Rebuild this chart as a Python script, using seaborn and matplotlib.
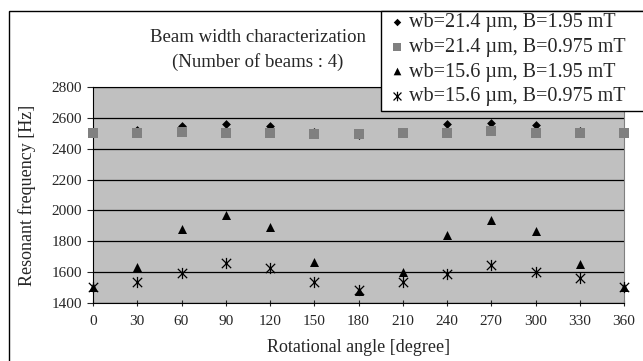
import numpy as np
import pandas as pd
import matplotlib
matplotlib.use("Agg")
import matplotlib.pyplot as plt
from matplotlib.path import Path
from matplotlib.patches import Rectangle
import seaborn as sns

angles = [0, 30, 60, 90, 120, 150, 180, 210, 240, 270, 300, 330, 360]
wb214_b195 = [2500, 2520, 2545, 2558, 2545, 2510, 2490, 2500, 2558, 2565, 2554, 2515, 2500]
wb214_b0975 = [2500, 2500, 2508, 2505, 2505, 2495, 2493, 2502, 2504, 2513, 2505, 2505, 2500]
wb156_b195 = [1505, 1631, 1878, 1972, 1895, 1667, 1480, 1603, 1841, 1938, 1868, 1653, 1505]
wb156_b0975 = [1504, 1537, 1596, 1657, 1624, 1537, 1484, 1538, 1588, 1646, 1603, 1560, 1506]
labels = ["wb=21.4 \u00b5m, B=1.95 mT", "wb=21.4 \u00b5m, B=0.975 mT",
          "wb=15.6 \u00b5m, B=1.95 mT", "wb=15.6 \u00b5m, B=0.975 mT"]
yticks = [1400, 1600, 1800, 2000, 2200, 2400, 2600, 2800]
xticks = angles

# Excel-style star: X plus vertical line
star = Path([(-1, -1), (1, 1), (-1, 1), (1, -1), (0, -1.2), (0, 1.2)],
            [Path.MOVETO, Path.LINETO, Path.MOVETO, Path.LINETO, Path.MOVETO, Path.LINETO])

sns.set_style("white")
plt.rcParams["font.family"] = ["Liberation Serif", "DejaVu Serif"]

fig = plt.figure(figsize=(6.43, 3.61), dpi=100)
ax = fig.add_axes([93 / 643, 58 / 361, 531 / 643, 216 / 361])
ax.set_facecolor("#c0c0c0")

series = [
    (wb214_b195, "D", "black", 20, None),
    (wb214_b0975, "s", "#808080", 42, None),
    (wb156_b195, "^", "black", 42, None),
    (wb156_b0975, star, "black", 65, 0.9),
]
handles = []
for (vals, mk, col, size, lw), lab in zip(series, labels):
    df = pd.DataFrame({"angle": angles, "freq": vals})
    kw = dict(linewidth=0) if lw is None else dict(linewidth=lw)
    sns.scatterplot(data=df, x="angle", y="freq", marker=mk, color=col, s=size,
                    edgecolor=col, ax=ax, clip_on=False, zorder=3, **kw)
    handles.append(ax.collections[-1])

ax.set_xlim(0, 360)
ax.set_ylim(1400, 2800)
ax.set_xticks(xticks)
ax.set_yticks(yticks)
ax.yaxis.grid(True, color="black", linewidth=0.9)
ax.set_axisbelow(True)
ax.spines["right"].set_color("#808080")
for side in ["left", "bottom", "top"]:
    ax.spines[side].set_color("black")
ax.tick_params(axis="y", direction="out", length=4, width=0.8, labelsize=11, left=True, pad=4)
ax.tick_params(axis="x", direction="inout", length=5, width=0.8, labelsize=11, bottom=True, pad=6)
ax.set_xlabel("Rotational angle [degree]", fontsize=13, labelpad=8)
ax.set_ylabel("Resonant frequency [Hz]", fontsize=13, labelpad=11)

fig.text(258 / 643, 1 - 37 / 361, "Beam width characterization", ha="center", va="center", fontsize=13.5)
fig.text(258 / 643, 1 - 62 / 361, "(Number of beams : 4)", ha="center", va="center", fontsize=13.5)

leg = fig.legend(handles, labels, loc="upper left", bbox_to_anchor=(384 / 643, 1 - 10 / 361),
                 frameon=False, fontsize=14.5, handletextpad=0.1,
                 handlelength=1.0, borderpad=0.15, labelspacing=0.28, borderaxespad=0,
                 markerscale=0.85)

# legend box runs off the right edge, as in the source
fig.patches.append(Rectangle((381 / 643, 1 - 111 / 361), 0.5, 100 / 361, transform=fig.transFigure,
                             facecolor="white", edgecolor="black", linewidth=1.0, zorder=1))
fig.patches.append(Rectangle((9 / 643, -0.05), 1.1, 1 - 11 / 361 + 0.05, transform=fig.transFigure,
                             fill=False, edgecolor="black", linewidth=1.0, zorder=0))

fig.savefig("out.png", dpi=100)
